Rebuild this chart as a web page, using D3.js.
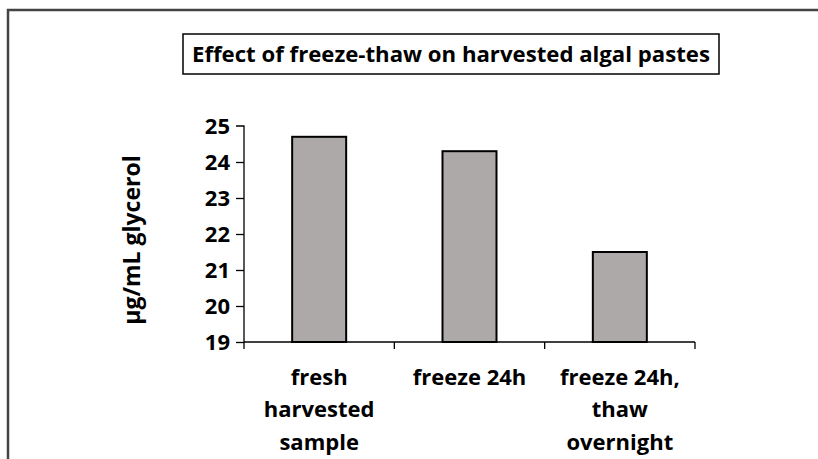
<!DOCTYPE html>
<html><head><meta charset="utf-8">
<script src="https://cdn.jsdelivr.net/npm/d3@7"></script>
<style>html,body{margin:0;padding:0;background:#fff;overflow:hidden}svg{display:block}text{font-family:"Open Sans",sans-serif;font-weight:bold;fill:#000}</style>
</head><body>
<svg id="c" width="818" height="459"></svg>
<script>
const title = "Effect of freeze-thaw on harvested algal pastes";
const yLabel = "µg/mL glycerol";
const categories = [["fresh","harvested","sample"],["freeze 24h"],["freeze 24h,","thaw","overnight"]];
const values = [24.7, 24.3, 21.5];
const yTicks = [19,20,21,22,23,24,25];

const svg = d3.select("#c");
// outer frame (left and top edges visible)
svg.append("path").attr("d","M8,470V10H830")
  .attr("fill","none").attr("stroke","#444").attr("stroke-width",2.5);

const m = {left:244, right:695, top:126, bottom:342};
const x = d3.scaleBand().domain(d3.range(categories.length)).range([m.left,m.right]).paddingInner(0).paddingOuter(0);
const y = d3.scaleLinear().domain([19,25]).range([m.bottom,m.top]);

// title box
svg.append("rect").attr("x",183).attr("y",34).attr("width",536).attr("height",40)
  .attr("fill","#fff").attr("stroke","#000").attr("stroke-width",1.5);
svg.append("text").attr("x",451).attr("y",54).attr("dy","0.35em").attr("text-anchor","middle")
  .style("font-size","22px").attr("textLength",518).attr("lengthAdjust","spacingAndGlyphs").text(title);

// bars
const bw = 54;
svg.selectAll("rect.bar").data(values).enter().append("rect").attr("class","bar")
  .attr("x",(d,i)=>x(i)+x.bandwidth()/2-bw/2).attr("width",bw)
  .attr("y",d=>y(d)).attr("height",d=>y(19)-y(d))
  .attr("fill","#ADA9A8").attr("stroke","#000").attr("stroke-width",2);

// y axis
const yAxis = d3.axisLeft(y).tickValues(yTicks).tickSize(8).tickFormat(d3.format("d"));
const gy = svg.append("g").attr("transform",`translate(${m.left},0)`).call(yAxis);
gy.select(".domain").attr("d",`M-8,${m.top}H0V${m.bottom+7}`).attr("stroke","#000").attr("stroke-width",1.3);
gy.selectAll(".tick line").attr("stroke","#000").attr("stroke-width",1.3);
gy.selectAll(".tick text").attr("x",-14).style("font-size","22px").style("font-family","'Open Sans',sans-serif").style("font-weight","bold").attr("fill","#000");
gy.select(".tick:last-of-type line").remove();

// x axis
const gx = svg.append("g");
gx.append("line").attr("x1",m.left).attr("x2",m.right).attr("y1",m.bottom).attr("y2",m.bottom).attr("stroke","#000").attr("stroke-width",1.3);
const bounds = d3.range(categories.length+1).map(i=> i<categories.length ? x(i) : x(i-1)+x.bandwidth());
gx.selectAll("line.t").data(bounds.slice(1)).enter().append("line").attr("class","t")
  .attr("x1",d=>d).attr("x2",d=>d).attr("y1",m.bottom).attr("y2",m.bottom+7).attr("stroke","#000").attr("stroke-width",1.3);

categories.forEach((lines,i)=>{
  const t = svg.append("text").attr("text-anchor","middle").style("font-size","22px");
  lines.forEach((l,j)=>{
    t.append("tspan").attr("x",x(i)+x.bandwidth()/2).attr("y",377+j*32.5).attr("dy","0.35em").text(l);
  });
});

// y label
svg.append("text").attr("transform","translate(132,240) rotate(-90)").attr("text-anchor","middle")
  .attr("dy","0.35em").style("font-size","23px").text(yLabel);
</script>
</body></html>
